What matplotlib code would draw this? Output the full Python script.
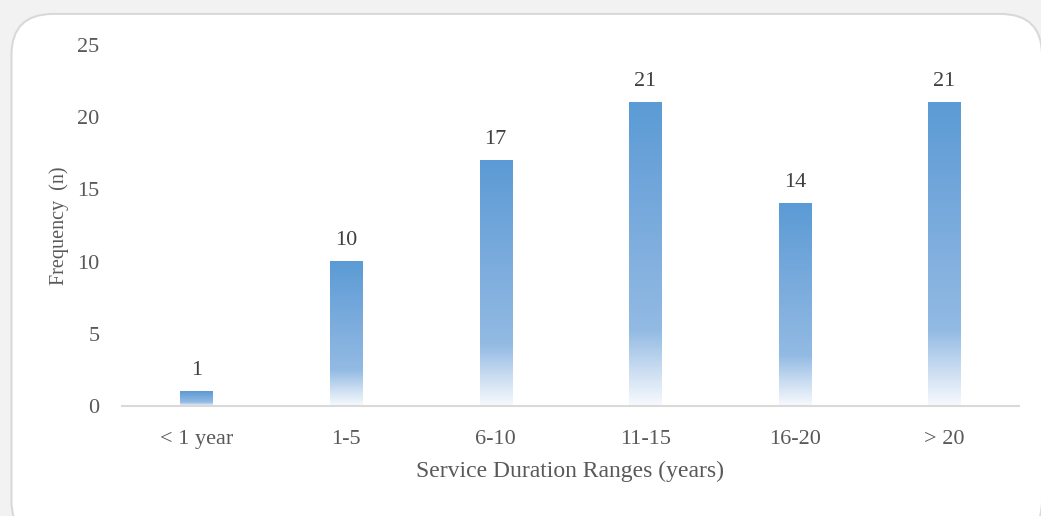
import matplotlib.pyplot as plt
import numpy as np
from matplotlib.colors import LinearSegmentedColormap
from matplotlib.patches import FancyBboxPatch

# data
ranges = ["< 1 year", "1-5", "6-10", "11-15", "16-20", "> 20"]
counts = [1, 10, 17, 21, 14, 21]

plt.rcParams['font.family'] = ['Liberation Serif', 'DejaVu Serif']

fig = plt.figure(figsize=(10.41, 5.16), dpi=100)
fig.patch.set_facecolor('#f2f2f2')

# rounded white card behind the chart
card = FancyBboxPatch((0.011, -0.05), 0.99, 1.023, boxstyle="round,pad=0,rounding_size=0.04",
                      transform=fig.transFigure, facecolor='white', edgecolor='#d9d9d9',
                      linewidth=1.5, mutation_aspect=2.0, zorder=-10)
fig.patches.append(card)

ax = fig.add_axes([0.117, 0.213, 0.862, 0.70])
ax.set_facecolor('none')
ax.set_zorder(5)

x = np.arange(len(ranges))
bars = ax.bar(x, counts, width=0.215, color='none', edgecolor='none')

# vertical gradient: white at bottom -> blue at top
cmap = LinearSegmentedColormap.from_list('grad', [
    (0.0, '#f7fafd'), (0.12, '#c9dcf1'), (0.25, '#92bae3'),
    (0.6, '#7aabdd'), (1.0, '#5b9bd5')])
grad = np.linspace(0, 1, 256).reshape(-1, 1)
for b in bars:
    x0, w, h = b.get_x(), b.get_width(), b.get_height()
    ax.imshow(grad, cmap=cmap, origin='lower', aspect='auto',
              extent=(x0, x0 + w, 0, h), zorder=2)

for xi, v in zip(x, counts):
    ax.text(xi, v + 0.8, str(v), ha='center', va='bottom', fontsize=16, color='#404040')

ax.set_xlim(-0.5, len(ranges) - 0.5)
ax.set_ylim(0, 25)
ax.set_yticks([0, 5, 10, 15, 20, 25])
ax.set_xticks(x)
ax.set_xticklabels(ranges)
ax.tick_params(axis='both', length=0, labelsize=16, colors='#595959')
ax.tick_params(axis='x', pad=17)
ax.tick_params(axis='y', pad=16)

for s in ['top', 'right', 'left']:
    ax.spines[s].set_visible(False)
ax.spines['bottom'].set_color('#d9d9d9')
ax.spines['bottom'].set_linewidth(1.5)

ax.set_xlabel("Service Duration Ranges (years)", fontsize=17, color='#595959', labelpad=9)
ax.set_ylabel("Frequency  (n)", fontsize=14.5, color='#595959', labelpad=6)

fig.savefig('out.png', dpi=100, facecolor=fig.get_facecolor())
